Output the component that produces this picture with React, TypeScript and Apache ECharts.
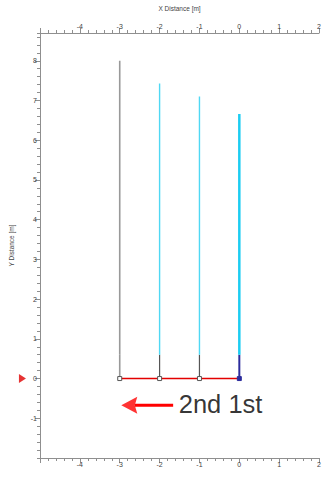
import React, { useEffect, useRef } from "react";
import * as echarts from "echarts";

// ---- data ----
const xRange = [-5, 2];
const yRange = [-2, 8.7];
const stationX = [-3, -2, -1, 0];
const stationTop = [8.0, 7.43, 7.1, 6.66];
const splitY = 0.6;
const baselineY = 0;
const arrowTail = [-1.66, -0.67];
const arrowNeck = [-2.62, -0.67];
const arrowHead = [-2.76, -0.67];
const annotationText = "2nd 1st";
const annotationPos = [-0.47, -0.65];
const originMarker = [-5.44, 0];
const xTitle = "X Distance [m]";
const yTitle = "Y Distance [m]";

const FONT = "Liberation Sans, Arial, sans-serif";
const AXIS_COLOR = "#8f8f8f";
const LABEL_COLOR = "#444";
const ARROW_HEAD = "path://M0,8 L16,0 L13.5,8 L16,16 Z";

export default function App() {
  const ref = useRef<HTMLDivElement>(null);

  useEffect(() => {
    if (!ref.current) return;
    const chart = echarts.init(ref.current, null, { renderer: "svg" });

    const topColors = ["#999999", "#4fd8f4", "#4fd8f4", "#1ccdf2"];
    const topWidths = [1.6, 1.4, 1.4, 2.5];
    const botColors = ["#999999", "#555555", "#555555", "#2c2c9c"];
    const botWidths = [1.6, 1.2, 1.2, 2];

    const stationSeries: any[] = [];
    stationX.forEach((x, i) => {
      stationSeries.push({
        type: "line",
        data: [
          [x, baselineY],
          [x, splitY],
        ],
        showSymbol: false,
        silent: true,
        z: 2,
        lineStyle: { color: botColors[i], width: botWidths[i] },
      });
      stationSeries.push({
        type: "line",
        data: [
          [x, splitY],
          [x, stationTop[i]],
        ],
        showSymbol: false,
        silent: true,
        z: 2,
        lineStyle: { color: topColors[i], width: topWidths[i] },
      });
    });

    const baseAxis = {
      type: "value",
      min: xRange[0],
      max: xRange[1],
      interval: 1,
      axisLine: { show: true, onZero: false, lineStyle: { color: AXIS_COLOR, width: 1 } },
      axisTick: { show: true, length: 5, lineStyle: { color: AXIS_COLOR } },
      minorTick: { show: true, splitNumber: 5, length: 3, lineStyle: { color: AXIS_COLOR } },
      axisLabel: {
        showMinLabel: false,
        fontSize: 7,
        color: LABEL_COLOR,
        fontFamily: FONT,
        margin: 3,
      },
      splitLine: { show: false },
      minorSplitLine: { show: false },
    };

    chart.setOption({
      animation: false,
      backgroundColor: "#ffffff",
      grid: { left: 35, right: 2, top: 29, bottom: 22, containLabel: false },
      xAxis: [
        { ...baseAxis, position: "bottom" },
        {
          ...baseAxis,
          position: "top",
          name: xTitle,
          nameLocation: "middle",
          nameGap: 21,
          nameTextStyle: { fontSize: 6.5, color: LABEL_COLOR, fontFamily: FONT },
        },
      ],
      yAxis: [
        {
          type: "value",
          position: "left",
          min: yRange[0],
          max: yRange[1],
          interval: 1,
          axisLine: { show: true, onZero: false, lineStyle: { color: AXIS_COLOR, width: 1 } },
          axisTick: { show: true, length: 5, lineStyle: { color: AXIS_COLOR } },
          axisLabel: {
            showMinLabel: false,
            showMaxLabel: false,
            fontSize: 7,
            color: LABEL_COLOR,
            fontFamily: FONT,
            margin: 3,
          },
          splitLine: { show: false },
          name: yTitle,
          nameLocation: "middle",
          nameGap: 25,
          nameTextStyle: { fontSize: 6.5, color: LABEL_COLOR, fontFamily: FONT },
        },
        {
          type: "value",
          position: "left",
          min: yRange[0],
          max: yRange[1],
          interval: 0.2,
          axisLine: { show: false, onZero: false },
          axisTick: { show: true, length: 3, lineStyle: { color: AXIS_COLOR } },
          axisLabel: { show: false },
          splitLine: { show: false },
        },
      ],
      series: [
        ...stationSeries,
        {
          type: "line",
          data: stationX.map((x, i) =>
            i === stationX.length - 1
              ? { value: [x, baselineY], itemStyle: { color: "#2c2c9c", borderColor: "#2c2c9c" } }
              : [x, baselineY]
          ),
          symbol: "rect",
          symbolSize: 4,
          showSymbol: true,
          silent: true,
          z: 4,
          lineStyle: { color: "#e30000", width: 1.5 },
          itemStyle: { color: "#ffffff", borderColor: "#555555", borderWidth: 1 },
        },
        {
          type: "scatter",
          data: [originMarker],
          clip: false,
          symbol: "triangle",
          symbolRotate: -90,
          symbolSize: [9, 7],
          silent: true,
          itemStyle: { color: "#e00000" },
        },
        {
          type: "line",
          data: [arrowTail, arrowNeck],
          showSymbol: false,
          silent: true,
          z: 3,
          lineStyle: { color: "#ff0000", width: 3 },
        },
        {
          type: "scatter",
          data: [arrowHead],
          symbol: ARROW_HEAD,
          symbolKeepAspect: false,
          symbolSize: [16, 17],
          silent: true,
          z: 3,
          itemStyle: { color: "#ff0000" },
        },
        {
          type: "scatter",
          data: [annotationPos],
          symbolSize: 0,
          silent: true,
          label: {
            show: true,
            position: "inside",
            formatter: annotationText,
            fontSize: 25.5,
            color: "#000000",
            fontFamily: FONT,
          },
        },
      ],
    });

    return () => chart.dispose();
  }, []);

  return (
    <div
      ref={ref}
      style={{ position: "fixed", left: 0, top: 0, width: 324, height: 480, background: "#fff" }}
    />
  );
}
